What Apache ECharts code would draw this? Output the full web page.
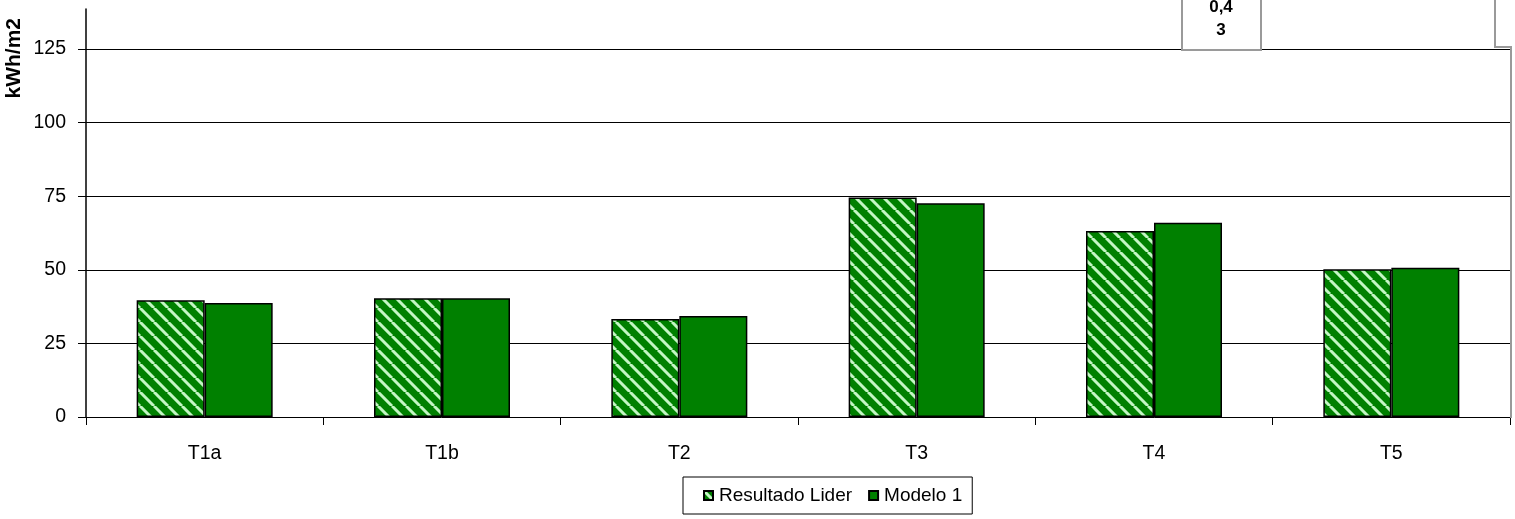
<!DOCTYPE html>
<html>
<head>
<meta charset="utf-8">
<script src="https://cdn.jsdelivr.net/npm/echarts@6/dist/echarts.min.js"></script>
<style>
  html, body { margin: 0; padding: 0; background: #fff; }
  #chart { width: 1515px; height: 519px; }
</style>
</head>
<body>
<div id="chart"></div>
<script>
// Energy demand per zone (kWh/m2)
const categories = ['T1a', 'T1b', 'T2', 'T3', 'T4', 'T5'];
const resultadoLider = [39.7, 40.3, 33.3, 74.6, 63.2, 50.2];
const modelo1 = [38.7, 40.3, 34.3, 72.6, 66.0, 50.7];
const yTickValues = [0, 25, 50, 75, 100, 125];
const gridValues = [25, 50, 75, 100, 125];
const seriesNames = ['Resultado Lider', 'Modelo 1'];
const tableText = '0,4\n3';

// Diagonal stripe fill for the reference series
function makeStripes() {
  const s = 14;
  const c = document.createElement('canvas');
  c.width = s; c.height = s;
  const g = c.getContext('2d');
  g.fillStyle = '#008000';
  g.fillRect(0, 0, s, s);
  g.strokeStyle = '#c4f6c4';
  g.lineWidth = 3;
  g.beginPath();
  for (let k = -1; k <= 1; k++) {
    g.moveTo(k * s, 0);
    g.lineTo(k * s + s, s);
  }
  g.stroke();
  return c;
}
const stripeFill = { image: makeStripes(), repeat: 'repeat' };

const chart = echarts.init(document.getElementById('chart'), null, { renderer: 'canvas' });
const font = 'Liberation Sans, Arial, sans-serif';

chart.setOption({
  animation: false,
  backgroundColor: '#ffffff',
  grid: { left: 86, right: 5, top: 9, bottom: 102, containLabel: false },
  legend: {
    data: seriesNames,
    left: 683, top: 477,
    padding: [9, 10, 9, 20],
    itemGap: 16,
    itemWidth: 9, itemHeight: 9,
    icon: 'rect',
    borderColor: '#000', borderWidth: 1,
    textStyle: { fontFamily: font, fontSize: 19, color: '#000', padding: [0, 0, 0, 1] }
  },
  xAxis: {
    type: 'category',
    data: categories,
    axisLine: { lineStyle: { color: '#000', width: 1 } },
    axisTick: { show: true, length: 8, lineStyle: { color: '#000' } },
    axisLabel: { fontFamily: font, fontSize: 19.5, color: '#000', margin: 27 }
  },
  yAxis: {
    type: 'value',
    min: 0, max: 138.6, interval: 25,
    name: 'kWh/m2',
    nameLocation: 'end',
    nameRotate: 90,
    nameGap: 0,
    nameTextStyle: { fontFamily: font, fontSize: 21, fontWeight: 'bold', color: '#000',
      align: 'right', verticalAlign: 'bottom', padding: [0, 9, 61, 0] },
    axisLine: { show: true, lineStyle: { color: '#000', width: 1.5 } },
    axisTick: { show: true, length: 8, lineStyle: { color: '#000' }, customValues: yTickValues },
    splitLine: { show: false },
    axisLabel: { fontFamily: font, fontSize: 19.5, color: '#000', margin: 20,
      customValues: yTickValues }
  },
  series: [
    {
      name: seriesNames[0],
      type: 'bar',
      data: resultadoLider,
      barWidth: 68,
      barGap: '0%',
      itemStyle: { color: stripeFill, borderColor: '#000', borderWidth: 1.5 },
      z: 3,
      markLine: {
        silent: true,
        symbol: 'none',
        label: { show: false },
        lineStyle: { color: '#000', width: 1.2, type: 'solid' },
        data: gridValues.map(v => ({ yAxis: v })),
        z: 1
      }
    },
    {
      name: seriesNames[1],
      type: 'bar',
      data: modelo1,
      barWidth: 68,
      itemStyle: { color: '#008000', borderColor: '#000', borderWidth: 1.5 },
      z: 3
    }
  ],
  graphic: [
    // plot-area right edge and the partly visible data table above it
    { type: 'polyline', z: 10, silent: true,
      shape: { points: [[1495, 0], [1495, 47], [1511, 47], [1511, 418]] },
      style: { stroke: '#9a9a9a', lineWidth: 2, fill: null } },
    { type: 'rect', z: 10, silent: true,
      shape: { x: 1182, y: -2, width: 79, height: 52 },
      style: { fill: '#fff', stroke: '#9a9a9a', lineWidth: 2 } },
    { type: 'text', z: 11, silent: true,
      style: { x: 1221, y: 19, text: tableText, align: 'center', verticalAlign: 'middle',
        font: 'bold 17px Liberation Sans, Arial, sans-serif', fill: '#000', lineHeight: 23 } }
  ]
});
</script>
</body>
</html>
